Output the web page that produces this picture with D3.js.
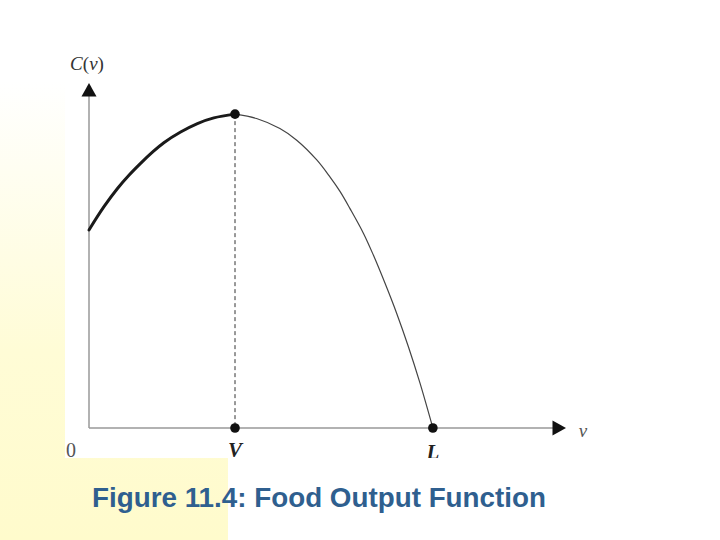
<!DOCTYPE html>
<html>
<head>
<meta charset="utf-8">
<script src="https://cdn.jsdelivr.net/npm/d3@7"></script>
<style>
  html, body { margin: 0; padding: 0; background: #fff; }
  svg { display: block; }
</style>
</head>
<body>
<script>
// values (arbitrary units, origin at 0)
var vLeft  = [0, 0.41, 0.78, 1.10, 1.42, 1.73, 2.05, 2.51, 2.97, 3.42, 4.0];
var cLeft  = [6.31, 7.05, 7.63, 8.06, 8.44, 8.78, 9.09, 9.43, 9.70, 9.88, 10.0];
var vRight = [4.0, 4.59, 5.23, 5.69, 6.24, 6.60, 6.88, 7.15, 7.52, 7.79, 8.11, 8.43, 8.75, 9.07, 9.42];
var cRight = [10.0, 9.86, 9.54, 9.17, 8.54, 8.00, 7.53, 6.99, 6.20, 5.51, 4.61, 3.65, 2.59, 1.42, 0];

var markV = [4.0, 4.0, 9.42];
var markC = [10.0, 0, 0];

var tickValues = [4.0, 9.42];
var tickLabels = ["V", "L"];

var vMax = 13.04, cMax = 10.96;
var title = "Figure 11.4: Food Output Function";

var w = 720, h = 540;

var svg = d3.select("body").append("svg")
    .attr("width", w)
    .attr("height", h);

// slide background: yellow strip fading up to white
var defs = svg.append("defs");
var grad = defs.append("linearGradient")
    .attr("id", "bg")
    .attr("x1", 0).attr("y1", 0).attr("x2", 0).attr("y2", 1);
grad.append("stop").attr("offset", "0%").attr("stop-color", "#ffffff");
grad.append("stop").attr("offset", "15%").attr("stop-color", "#ffffff");
grad.append("stop").attr("offset", "65%").attr("stop-color", "#fffcd6");
grad.append("stop").attr("offset", "100%").attr("stop-color", "#fffbcc");

svg.append("rect")
    .attr("x", 0).attr("y", 0)
    .attr("width", 228).attr("height", h)
    .attr("fill", "url(#bg)");

// white picture area
svg.append("rect")
    .attr("x", 65).attr("y", 0)
    .attr("width", w - 65).attr("height", 458)
    .attr("fill", "#fff");

defs.append("clipPath").attr("id", "pic")
  .append("rect")
    .attr("x", 65).attr("y", 0)
    .attr("width", w - 65).attr("height", 458);

var g = svg.append("g").attr("clip-path", "url(#pic)");

var x = d3.scaleLinear().domain([0, vMax]).range([89, 565]);
var y = d3.scaleLinear().domain([0, cMax]).range([428, 84]);

// axes (plain lines, arrow heads at the ends)
g.append("line")
    .attr("x1", x(0)).attr("y1", y(0))
    .attr("x2", x(0)).attr("y2", y(cMax) + 12)
    .attr("stroke", "#999").attr("stroke-width", 1.5);
g.append("line")
    .attr("x1", x(0)).attr("y1", y(0))
    .attr("x2", x(vMax) - 12).attr("y2", y(0))
    .attr("stroke", "#999").attr("stroke-width", 1.5);

g.append("path")
    .attr("d", "M" + x(0) + "," + (y(cMax) - 1) + "l-7.5,13.5h15z")
    .attr("fill", "#111");
g.append("path")
    .attr("d", "M" + (x(vMax) + 1) + "," + y(0) + "l-13.5,-7.5v15z")
    .attr("fill", "#111");

// dashed drop line at V
g.append("line")
    .attr("x1", x(tickValues[0])).attr("y1", y(10))
    .attr("x2", x(tickValues[0])).attr("y2", y(0))
    .attr("stroke", "#333").attr("stroke-width", 1)
    .attr("stroke-dasharray", "4,3");

var line = d3.line()
    .x(function(d) { return x(d[0]); })
    .y(function(d) { return y(d[1]); })
    .curve(d3.curveCatmullRom.alpha(0.5));

g.append("path")
    .datum(d3.zip(vRight, cRight))
    .attr("d", line)
    .attr("fill", "none")
    .attr("stroke", "#444")
    .attr("stroke-width", 1.2);

g.append("path")
    .datum(d3.zip(vLeft, cLeft))
    .attr("d", line)
    .attr("fill", "none")
    .attr("stroke", "#1a1a1a")
    .attr("stroke-width", 3)
    .attr("stroke-linecap", "round");

g.selectAll("circle.mark")
    .data(d3.zip(markV, markC))
    .enter().append("circle")
    .attr("class", "mark")
    .attr("cx", function(d) { return x(d[0]); })
    .attr("cy", function(d) { return y(d[1]); })
    .attr("r", 4.8)
    .attr("fill", "#111");

var serif = "'Liberation Serif', 'Times New Roman', serif";

// axis labels
var cl = g.append("text")
    .attr("x", 87).attr("y", 70)
    .attr("text-anchor", "middle")
    .attr("font-family", serif)
    .attr("font-size", 19)
    .attr("fill", "#333");
cl.append("tspan").attr("font-style", "italic").text("C");
cl.append("tspan").text("(");
cl.append("tspan").attr("font-style", "italic").text("v");
cl.append("tspan").text(")");

g.append("text")
    .attr("x", 583).attr("y", 437)
    .attr("text-anchor", "middle")
    .attr("font-family", serif)
    .attr("font-style", "italic")
    .attr("font-size", 19)
    .attr("fill", "#555")
    .text("v");

g.append("text")
    .attr("x", 71).attr("y", 457)
    .attr("text-anchor", "middle")
    .attr("font-family", serif)
    .attr("font-size", 20)
    .attr("fill", "#555")
    .text("0");

g.selectAll("text.tick")
    .data(tickValues)
    .enter().append("text")
    .attr("class", "tick")
    .attr("x", function(d) { return x(d); })
    .attr("y", function(d, i) { return i === 0 ? 457 : 459; })
    .attr("text-anchor", "middle")
    .attr("font-family", serif)
    .attr("font-style", "italic")
    .attr("font-weight", "bold")
    .attr("font-size", 21)
    .attr("fill", "#222")
    .text(function(d, i) { return tickLabels[i]; });

// caption
svg.append("text")
    .attr("x", 92).attr("y", 507)
    .attr("font-family", "'Liberation Sans', Arial, sans-serif")
    .attr("font-weight", "bold")
    .attr("font-size", 27.8)
    .attr("fill", "#2f5f8f")
    .text(title);
</script>
</body>
</html>
